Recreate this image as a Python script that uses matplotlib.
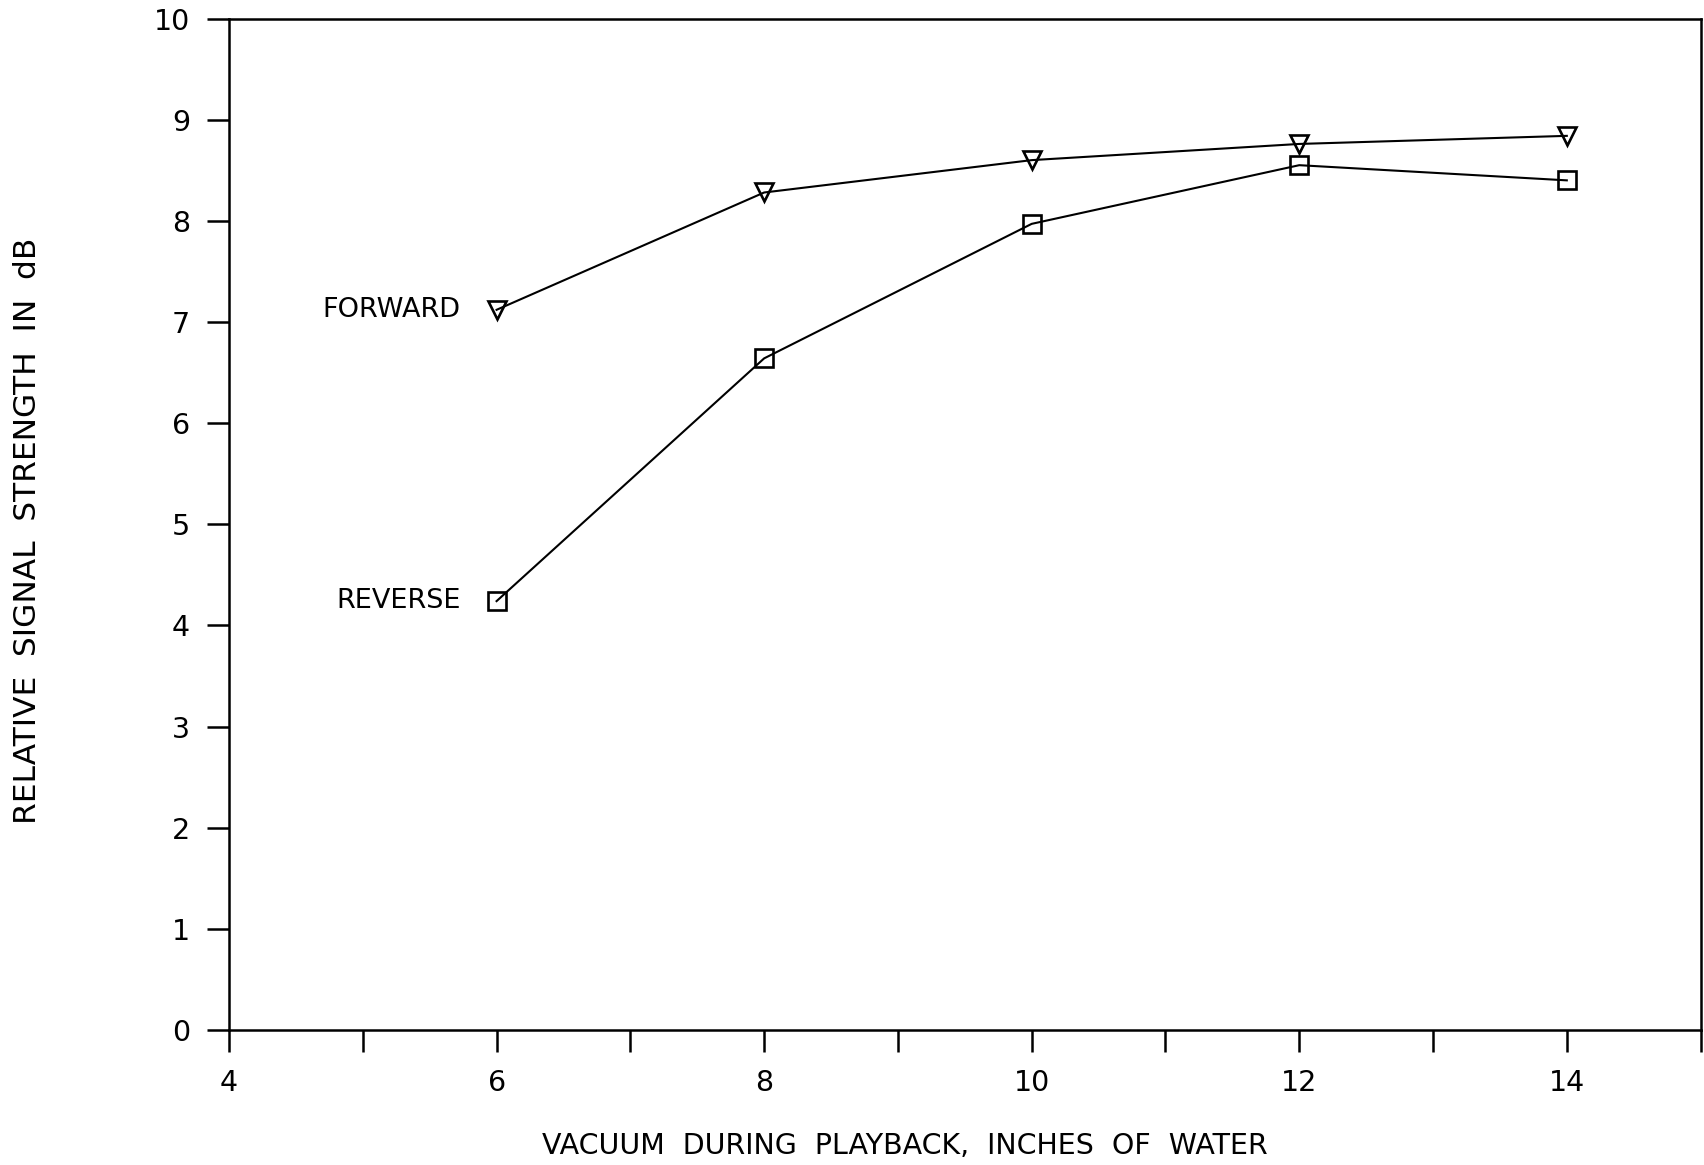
import matplotlib.pyplot as plt

vacuum = [6, 8, 10, 12, 14]
forward = [7.12, 8.28, 8.60, 8.76, 8.84]
reverse = [4.24, 6.64, 7.97, 8.55, 8.40]

x_ticks = list(range(4, 16))
x_tick_labels = ["4", "", "6", "", "8", "", "10", "", "12", "", "14", ""]
y_ticks = list(range(0, 11))

plt.rcParams["font.family"] = ["DejaVu Sans"]

fig = plt.figure(figsize=(17.04, 11.65), dpi=100)
ax = fig.add_axes([0.1344, 0.1159, 0.8636, 0.8682])

line_kw = dict(color="black", linewidth=1.5, markerfacecolor="none",
               markeredgecolor="black", markeredgewidth=1.9)
ax.plot(vacuum, forward, marker="v", markersize=13, **line_kw)
ax.plot(vacuum, reverse, marker="s", markersize=13, **line_kw)

ax.text(vacuum[0] - 0.27, forward[0], "FORWARD", ha="right", va="center", fontsize=19.5)
ax.text(vacuum[0] - 0.27, reverse[0], "REVERSE", ha="right", va="center", fontsize=19.5)

ax.set_xlim(4, 15)
ax.set_ylim(0, 10)
ax.set_xticks(x_ticks)
ax.set_xticklabels(x_tick_labels)
ax.set_yticks(y_ticks)
ax.tick_params(direction="out", length=16, width=1.8, labelsize=20.5, pad=12)
for s in ax.spines.values():
    s.set_linewidth(1.8)

ax.set_xlabel("VACUUM  DURING  PLAYBACK,  INCHES  OF  WATER", fontsize=20.5)
ax.xaxis.set_label_coords(0.459, -0.1147)
ax.xaxis.label.set_va("center")
ax.set_ylabel("RELATIVE  SIGNAL  STRENGTH  IN  dB", fontsize=22.5)
ax.yaxis.set_label_coords(-0.137, 0.494)
ax.yaxis.label.set_va("center")

fig.savefig("out.png", dpi=100)
